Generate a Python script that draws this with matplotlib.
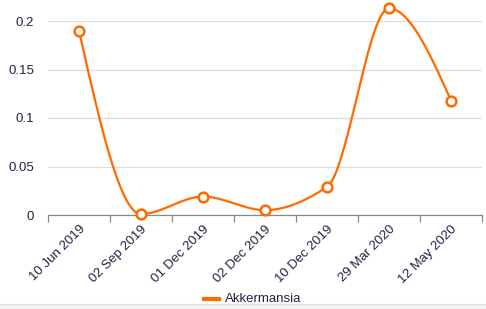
import numpy as np
import matplotlib.pyplot as plt
from matplotlib.patches import Rectangle

# data
dates = ['10 Jun 2019', '02 Sep 2019', '01 Dec 2019', '02 Dec 2019',
         '10 Dec 2019', '29 Mar 2020', '12 May 2020']
akkermansia = [0.19, 0.001, 0.019, 0.005, 0.029, 0.213, 0.118]
yticks = [0, 0.05, 0.1, 0.15, 0.2]
ytick_labels = ['0', '0.05', '0.1', '0.15', '0.2']

orange = '#ff6a00'
plt.rcParams['font.family'] = ['Liberation Sans', 'DejaVu Sans']


def monotone(x, y, n=40):
    # monotone cubic (Fritsch-Carlson) curve through the points
    x = np.asarray(x, float)
    y = np.asarray(y, float)
    h = np.diff(x)
    d = np.diff(y) / h
    m = np.zeros(len(x))
    m[0], m[-1] = d[0], d[-1]
    for i in range(1, len(x) - 1):
        if d[i - 1] * d[i] <= 0:
            m[i] = 0
        else:
            m[i] = (h[i - 1] + h[i]) * 2 * d[i - 1] * d[i] / (
                (2 * h[i] + h[i - 1]) * d[i - 1] + (h[i] + 2 * h[i - 1]) * d[i]) * 1.0
            m[i] = 3 * (h[i - 1] + h[i]) / ((2 * h[i] + h[i - 1]) / d[i - 1] + (h[i] + 2 * h[i - 1]) / d[i])
    # end slopes like d3 monotoneX
    m[0] = (3 * d[0] - m[1]) / 2 if d[0] * (3 * d[0] - m[1]) > 0 else 0
    m[-1] = (3 * d[-1] - m[-2]) / 2 if d[-1] * (3 * d[-1] - m[-2]) > 0 else 0
    xs, ys = [], []
    for i in range(len(x) - 1):
        t = np.linspace(0, 1, n)
        h00 = 2 * t**3 - 3 * t**2 + 1
        h10 = t**3 - 2 * t**2 + t
        h01 = -2 * t**3 + 3 * t**2
        h11 = t**3 - t**2
        xs.append(x[i] + t * h[i])
        ys.append(h00 * y[i] + h10 * h[i] * m[i] + h01 * y[i + 1] + h11 * h[i] * m[i + 1])
    return np.concatenate(xs), np.concatenate(ys)


fig = plt.figure(figsize=(4.86, 3.09), dpi=100)
W, H = 486, 309
ax = fig.add_axes([48 / W, 1 - 215 / H, 434 / W, 215 / H])

# bottom strip
fig.patches.append(Rectangle((0, 0), 1, 5 / H, transform=fig.transFigure,
                             facecolor='#f2f2f2', edgecolor='none', zorder=0))
fig.lines.append(plt.Line2D([0, 1], [5 / H, 5 / H], transform=fig.transFigure,
                            color='#dddddd', lw=0.8))

x = np.arange(len(dates))
sx, sy = monotone(x, akkermansia)
ax.plot(sx, sy, color=orange, lw=1.6, solid_capstyle='round', clip_on=False, zorder=3)
ax.plot(x, akkermansia, 'o', color=orange, mfc='white', mec=orange, ms=7, mew=1.8,
        clip_on=False, zorder=4)

ax.set_xlim(-0.5, len(dates) - 0.5)
ax.set_ylim(0, 215 / 970)
ax.set_yticks(yticks)
ax.set_yticklabels(ytick_labels)
ax.yaxis.grid(True, color='#dddddd', lw=0.9)
ax.set_axisbelow(True)

ax.set_xticks(x)
ax.set_xticklabels(dates, rotation=45, ha='right', rotation_mode='anchor')
ax.set_xticks(np.arange(len(dates) + 1) - 0.5, minor=True)
ax.tick_params(axis='x', which='major', length=0, pad=6, labelsize=9.5, labelcolor='#222244')
ax.tick_params(axis='x', which='minor', length=5, color='#888888', width=0.9)
ax.tick_params(axis='y', length=0, pad=10, labelsize=9.5, labelcolor='#222244')

for s in ['top', 'right', 'left']:
    ax.spines[s].set_visible(False)
ax.spines['bottom'].set_color('#888888')
ax.spines['bottom'].set_linewidth(0.9)

# legend
fig.lines.append(plt.Line2D([204 / W, 219 / W], [1 - 299 / H, 1 - 299 / H],
                            transform=fig.transFigure, color=orange, lw=3))
fig.text(225 / W, 1 - 299 / H, 'Akkermansia', fontsize=9.5, color='#222244',
         va='center', ha='left')

fig.savefig('out.png', dpi=100)
